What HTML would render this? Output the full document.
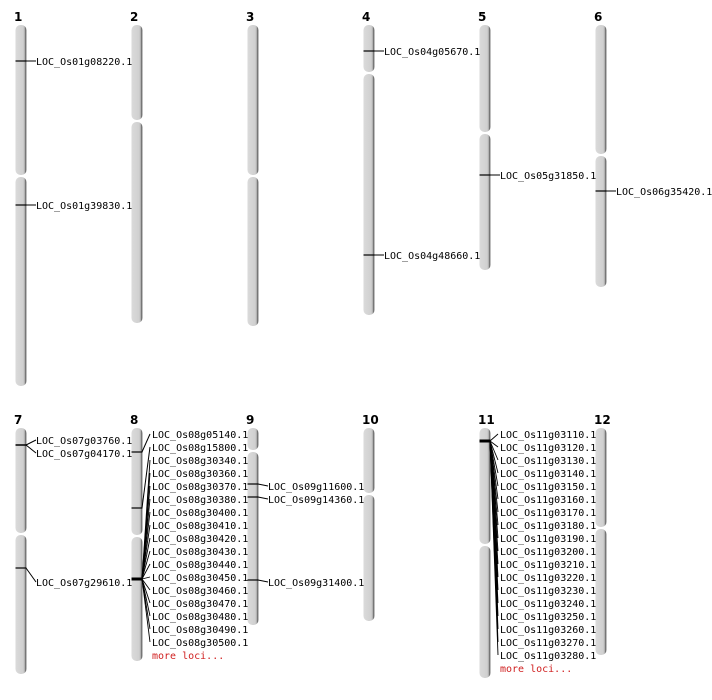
<!DOCTYPE html>
<html><head><meta charset="utf-8"><style>
html,body{margin:0;padding:0;background:#fff;}
svg{display:block;}
.t{font-family:"DejaVu Sans Mono","Liberation Mono",monospace;font-size:10px;fill:#000;}
.n{font-family:"DejaVu Sans","Liberation Sans",sans-serif;font-size:12px;font-weight:bold;fill:#000;}
.m{font-family:"DejaVu Sans Mono","Liberation Mono",monospace;font-size:10px;fill:#d02020;}
</style></head><body>
<svg id="s" width="712" height="700" xmlns="http://www.w3.org/2000/svg">
<defs>
<linearGradient id="g" x1="0" x2="1" y1="0" y2="0">
<stop offset="0" stop-color="#dadada"/><stop offset="0.7" stop-color="#d0d0d0"/><stop offset="0.82" stop-color="#b8b8b8"/><stop offset="0.92" stop-color="#666"/><stop offset="1" stop-color="#8a8a8a"/>
</linearGradient>
</defs>
<g id="c"></g>
</svg>
<script>
var s=document.getElementById('c'),NS='http://www.w3.org/2000/svg';
function el(n,a,t){var e=document.createElementNS(NS,n);for(var k in a)e.setAttribute(k,a[k]);if(t)e.textContent=t;s.appendChild(e);}
var ch=[[1,16,25,176,386],[2,132,25,121,323],[3,248,25,176,326],[4,364,25,73,315],[5,480,25,133,270],[6,596,25,155,287],
[7,16,428,534,674],[8,132,428,536,661],[9,248,428,451,625],[10,364,428,494,621],[11,480,428,545,678],[12,596,428,528,655]];
ch.forEach(function(c){var x=c[1]-0.5;
el('rect',{x:x,y:c[2],width:11,height:c[3]-c[2]-1,rx:5,fill:'url(#g)'});
el('rect',{x:x,y:c[3]+1,width:11,height:c[4]-c[3]-1,rx:5,fill:'url(#g)'});
el('text',{x:c[1]-2,y:c[2]-4,'class':'n'},String(c[0]));});
function L(x1,y1,x2,y2,w){el('line',{x1:x1,y1:y1,x2:x2,y2:y2,stroke:'#000','stroke-width':w||1});}
function T(x,y,t){el('text',{x:x,y:y+4,'class':'t'},t);}
function mk(x,y,w){L(x-0.5,y,x+10.5,y,w||1.2);}
[[16,61,'LOC_Os01g08220.1'],[16,205,'LOC_Os01g39830.1'],[364,51,'LOC_Os04g05670.1'],[364,255,'LOC_Os04g48660.1'],[480,175,'LOC_Os05g31850.1'],[596,191,'LOC_Os06g35420.1']].forEach(function(a){mk(a[0],a[1]);L(a[0]+10,a[1],a[0]+20,a[1]);T(a[0]+20,a[1],a[2]);});
mk(16,445,1.5);L(26,445,36,440);L(26,445,36,453);T(36,440,'LOC_Os07g03760.1');T(36,453,'LOC_Os07g04170.1');
mk(16,568);L(26,568,36,582);T(36,582,'LOC_Os07g29610.1');
var n8=['05140','15800','30340','30360','30370','30380','30400','30410','30420','30430','30440','30450','30460','30470','30480','30490','30500'];
mk(132,452);mk(132,508);mk(132,579,3);
n8.forEach(function(n,i){var y=434+13*i;T(152,y,'LOC_Os08g'+n+'.1');
if(i==0)L(142,452,150,y);else if(i==1)L(142,508,150,y);else L(142,579,150,y,0.9);});
el('text',{x:152,y:659,'class':'m'},'more loci...');
mk(248,484);L(258,484,268,486);T(268,486,'LOC_Os09g11600.1');
mk(248,497);L(258,497,268,499);T(268,499,'LOC_Os09g14360.1');
mk(248,580);L(258,580,268,582);T(268,582,'LOC_Os09g31400.1');
mk(480,441,3);
for(var i=0;i<18;i++){var y=434+13*i;var n=3110+10*i;T(500,y,'LOC_Os11g0'+n+'.1');L(490,441,498,y,0.9);}
el('text',{x:500,y:672,'class':'m'},'more loci...');
</script>
</body></html>
